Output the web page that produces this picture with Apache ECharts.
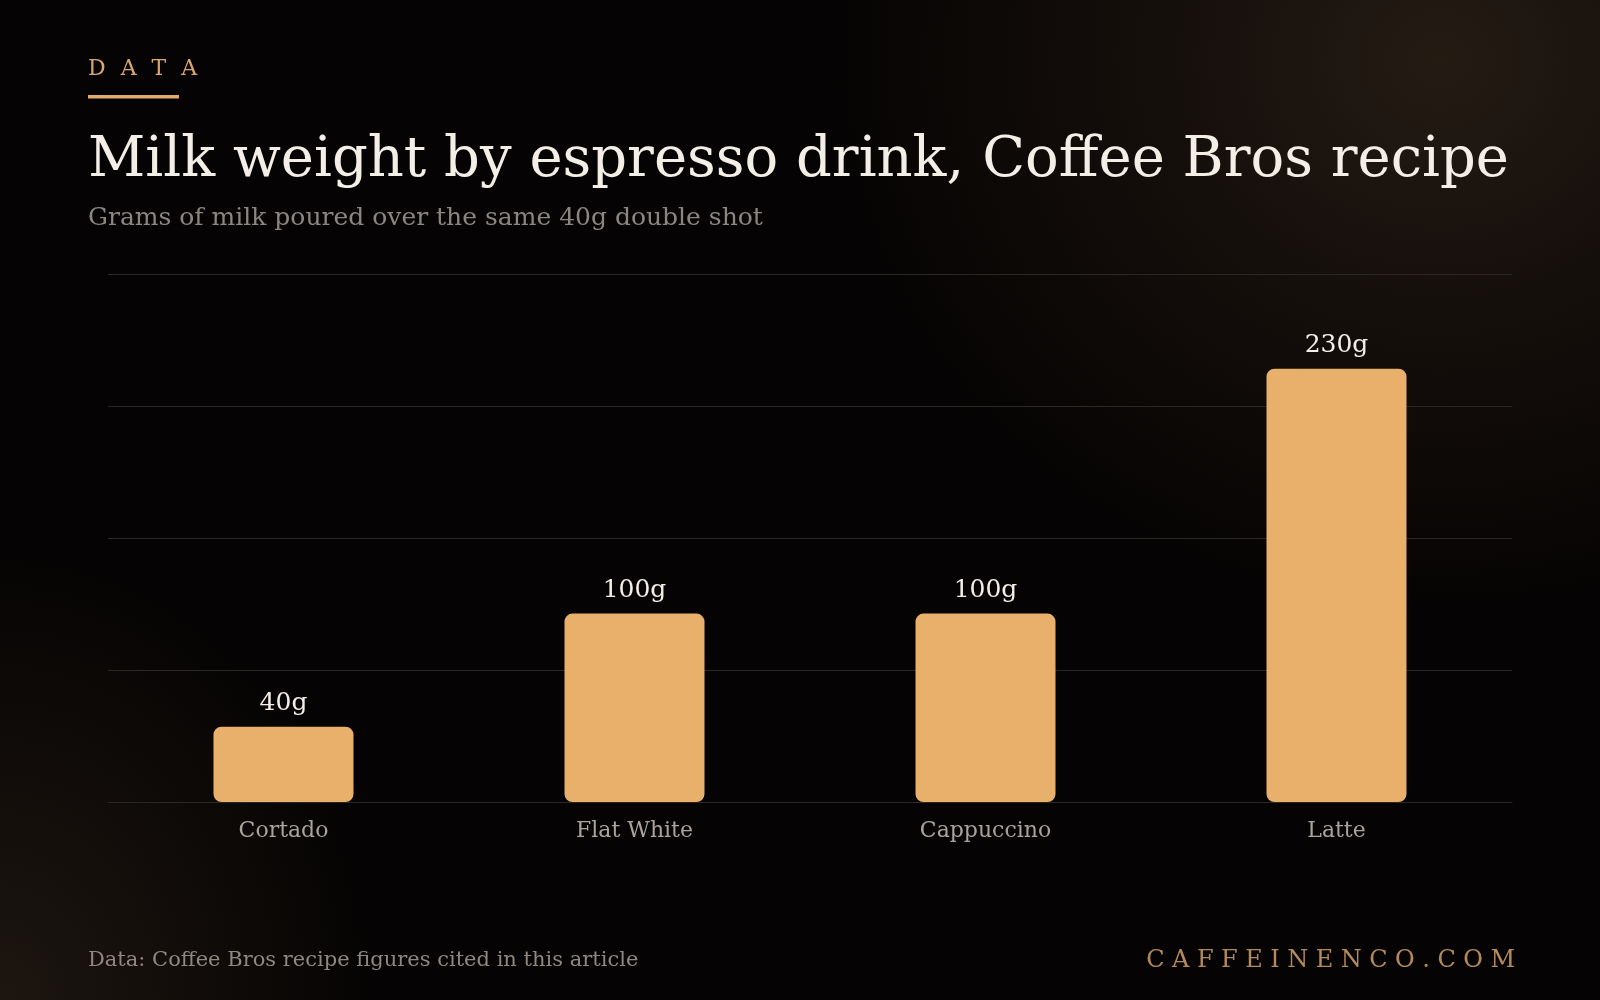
<!DOCTYPE html>
<html>
<head>
<meta charset="utf-8">
<script src="https://cdn.jsdelivr.net/npm/echarts@6/dist/echarts.min.js"></script>
<style>
html,body{margin:0;padding:0;width:1600px;height:1000px;overflow:hidden;background:#050303;}
#chart{width:1600px;height:1000px;
background:
 radial-gradient(ellipse 620px 560px at 90% 6%, rgba(36,27,19,1) 0%, rgba(30,22,16,0.75) 35%, rgba(5,3,3,0) 100%),
 radial-gradient(ellipse 380px 460px at 0% 100%, rgba(30,23,17,0.95) 0%, rgba(5,3,3,0) 100%),
 #050303;}
</style>
</head>
<body>
<div id="chart"></div>
<script>
const categories = ['Cortado', 'Flat White', 'Cappuccino', 'Latte'];
const milkGrams = [40, 100, 100, 230];
const yMin = 0, yMax = 280, yInterval = 70;
const kicker = 'DATA';
const titleText = 'Milk weight by espresso drink, Coffee Bros recipe';
const subtitleText = 'Grams of milk poured over the same 40g double shot';
const sourceText = 'Data: Coffee Bros recipe figures cited in this article';
const brandText = 'CAFFEINENCO.COM';

const SERIF = '"DejaVu Serif", serif';
const ctx = document.createElement('canvas').getContext('2d');
function spaced(str, x, y, size, spacing, color, alignRight) {
  ctx.font = size + 'px ' + SERIF;
  const widths = [...str].map(ch => ctx.measureText(ch).width);
  const total = widths.reduce((a, b) => a + b, 0) + spacing * (str.length - 1);
  let cx = alignRight ? x - total : x;
  const out = [];
  [...str].forEach((ch, i) => {
    out.push({type: 'text', x: cx, y: y, silent: true,
      style: {text: ch, fill: color, font: size + 'px ' + SERIF, textAlign: 'left', textVerticalAlign: 'middle'}});
    cx += widths[i] + spacing;
  });
  return out;
}

const chart = echarts.init(document.getElementById('chart'), null, {renderer: 'canvas'});
const graphics = [].concat(
  spaced(kicker, 88, 69, 22, 15, '#d9a66b', false),
  [{type: 'rect', shape: {x: 88, y: 95, width: 91, height: 3.5}, style: {fill: '#e3ab6a'}, silent: true},
   {type: 'text', x: 88, y: 161, silent: true,
    style: {text: titleText, fill: '#f3eee6', font: '56px ' + SERIF, textAlign: 'left', textVerticalAlign: 'middle'}},
   {type: 'text', x: 88, y: 218, silent: true,
    style: {text: subtitleText, fill: '#8b8680', font: '25px ' + SERIF, textAlign: 'left', textVerticalAlign: 'middle'}},
   {type: 'text', x: 88, y: 961, silent: true,
    style: {text: sourceText, fill: '#8e8880', font: '21px ' + SERIF, textAlign: 'left', textVerticalAlign: 'middle'}}],
  spaced(brandText, 1515, 961, 24, 7.5, '#b58a5a', true)
);

chart.setOption({
  backgroundColor: 'transparent',
  animation: false,
  grid: {left: 108, right: 88, top: 274.5, bottom: 198, containLabel: false},
  xAxis: {
    type: 'category', data: categories,
    axisLine: {show: true, lineStyle: {color: '#2b2723', width: 1}},
    axisTick: {show: false},
    axisLabel: {color: '#a9a39b', fontFamily: SERIF, fontSize: 22, margin: 18}
  },
  yAxis: {
    type: 'value', min: yMin, max: yMax, interval: yInterval,
    axisLine: {show: false}, axisTick: {show: false}, axisLabel: {show: false},
    splitLine: {show: true, lineStyle: {color: '#2b2723', width: 1}}
  },
  series: [{
    type: 'bar', data: milkGrams, barWidth: 140,
    itemStyle: {color: '#e8b06a', borderRadius: 8},
    label: {show: true, position: 'top', distance: 11, formatter: '{c}g',
      color: '#f3eee6', fontFamily: SERIF, fontSize: 25}
  }],
  graphic: graphics
});
</script>
</body>
</html>
